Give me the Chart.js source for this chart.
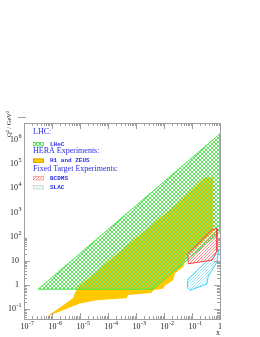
<!DOCTYPE html>
<html>
<head>
<meta charset="utf-8">
<script src="https://cdn.jsdelivr.net/npm/chart.js@4/dist/chart.umd.min.js"></script>
<style>
  html, body { margin: 0; padding: 0; background: #fff; }
</style>
</head>
<body>
<canvas id="kin-chart" width="260" height="337"></canvas>
<script>
// Kinematic regions in the (x, Q^2) plane
const lhecX  = [3.2e-7, 1, 1, 0.004, 3.2e-7];
const lhecQ2 = [0.68, 1.8e6, 155, 0.68, 0.68];

const heraX  = [6.4e-7, 5.6e-6, 6.6e-6, 8.5e-6, 7.8e-4, 0.0316, 0.29, 0.56, 0.56, 0.065, 0.049,
                0.0247, 0.0214, 0.011, 0.0094, 0.0041, 0.0036, 5.2e-4, 4.6e-4, 1.2e-4, 4e-5, 1e-5, 6.4e-7];
const heraQ2 = [0.05, 0.29, 0.47, 0.83, 72, 2450, 2.9e4, 2.8e4, 155, 17.4, 5.7,
                3.1, 1.6, 1.0, 0.73, 0.62, 0.47, 0.39, 0.29, 0.26, 0.24, 0.175, 0.05];

const bcdmsX  = [0.070, 0.52, 0.78, 0.78, 0.52, 0.074, 0.070];
const bcdmsQ2 = [19, 200, 220, 25, 10.8, 7.7, 19];

const slacX  = [0.068, 0.072, 0.37, 0.92, 0.78, 0.38, 0.34, 0.085, 0.068];
const slacQ2 = [0.80, 1.77, 10.8, 28, 8.9, 2.35, 1.1, 0.62, 0.80];

// axis decades that carry a label
const xTickExp = [-7, -6, -5, -4, -3, -2, -1, 0];
const yTickExp = [-1, 0, 1, 2, 3, 4, 5, 6];

// legend text
const legendHeads = ['LHC:', 'HERA Experiments:', 'Fixed Target Experiments:'];
const legendItems = ['LHeC', 'H1 and ZEUS', 'BCDMS', 'SLAC'];

const canvas = document.getElementById('kin-chart');
const ctx = canvas.getContext('2d');

/**
 * Small repeating hatch pattern (kind: '/', '\\' or 'x')
 */
function hatch(color, kind, size, bg) {
    const tile = document.createElement('canvas');
    tile.width = size;
    tile.height = size;
    const g = tile.getContext('2d');
    if (bg) {
        g.fillStyle = bg;
        g.fillRect(0, 0, size, size);
    }
    g.strokeStyle = color;
    g.lineWidth = 1;
    g.beginPath();
    if (kind === '/' || kind === 'x') {
        g.moveTo(-1, size + 1); g.lineTo(size + 1, -1);
        g.moveTo(-1, 1); g.lineTo(1, -1);
        g.moveTo(size - 1, size + 1); g.lineTo(size + 1, size - 1);
    }
    if (kind === '\\' || kind === 'x') {
        g.moveTo(-1, -1); g.lineTo(size + 1, size + 1);
        g.moveTo(size - 1, -1); g.lineTo(size + 1, 1);
        g.moveTo(-1, size - 1); g.lineTo(1, size + 1);
    }
    g.stroke();
    return ctx.createPattern(tile, 'repeat');
}

const greenMesh = hatch('#5fe35f', 'x', 4);
const redHatch  = hatch('#ff8c8c', '/', 3);
const cyanHatch = hatch('#9ee4f6', '/', 3);

function toPoints(xs, ys) {
    return xs.map((x, i) => ({ x: x, y: ys[i] }));
}

function region(label, xs, ys, border, fillStyle, width) {
    return {
        label: label,
        data: toPoints(xs, ys),
        showLine: true,
        fill: 'shape',
        tension: 0,
        borderColor: border,
        backgroundColor: fillStyle,
        borderWidth: width,
        pointRadius: 0,
        pointHoverRadius: 0
    };
}

function sup(c, base, exp, x, y, align) {
    c.font = '8px "Liberation Serif", serif';
    const wb = c.measureText(base).width;
    c.font = '6px "Liberation Serif", serif';
    const we = exp ? c.measureText(exp).width : 0;
    let start = x;
    if (align === 'right') start = x - wb - we;
    if (align === 'center') start = x - (wb + we) / 2;
    c.textAlign = 'left';
    c.textBaseline = 'middle';
    c.font = '8px "Liberation Serif", serif';
    c.fillText(base, start, y);
    if (exp) {
        c.font = '6px "Liberation Serif", serif';
        c.fillText(exp, start + wb + 0.5, y - 3.5);
    }
}

function expLabel(e) {
    if (e === 0) return ['1', ''];
    if (e === 1) return ['10', ''];
    return ['10', String(e)];
}

// frame, ROOT-like ticks, labels and legend
const decor = {
    id: 'decor',
    afterDatasetsDraw(chart) {
        const c = chart.ctx;
        const { left, right, top, bottom } = chart.chartArea;
        const xs = chart.scales.x;
        const ys = chart.scales.y;

        c.save();
        c.strokeStyle = '#a0a0a0';
        c.lineWidth = 1;
        c.strokeRect(Math.round(left) + 0.5, Math.round(top) + 0.5,
                     Math.round(right - left), Math.round(bottom - top));

        c.beginPath();
        for (let e = -8; e <= 1; e++) {
            for (let m = 1; m <= 9; m++) {
                const v = m * Math.pow(10, e);
                if (v >= xs.min && v <= xs.max) {
                    const px = Math.round(xs.getPixelForValue(v)) + 0.5;
                    const len = m === 1 ? 6 : 3;
                    c.moveTo(px, bottom); c.lineTo(px, bottom - len);
                    c.moveTo(px, top); c.lineTo(px, top + len);
                }
                if (v >= ys.min && v <= ys.max) {
                    const py = Math.round(ys.getPixelForValue(v)) + 0.5;
                    const len = m === 1 ? 6 : 3;
                    c.moveTo(left, py); c.lineTo(left + len, py);
                    c.moveTo(right, py); c.lineTo(right - len, py);
                }
            }
        }
        c.stroke();

        // small mark above the y axis
        c.beginPath();
        c.moveTo(18, 117.5); c.lineTo(26, 117.5);
        c.stroke();

        // tick labels
        c.fillStyle = '#222';
        xTickExp.forEach(e => {
            const px = xs.getPixelForValue(Math.pow(10, e));
            const [b, x] = expLabel(e);
            if (x) sup(c, b, x, px - 3.5, 327, 'left');
            else sup(c, b, x, px, 327, 'center');
        });
        yTickExp.forEach(e => {
            const py = ys.getPixelForValue(Math.pow(10, e));
            const [b, x] = expLabel(e);
            sup(c, b, x, x ? 21 : 19, py, 'right');
        });

        // axis titles
        c.font = '8px "Liberation Serif", serif';
        c.textAlign = 'center';
        c.textBaseline = 'middle';
        c.fillText('x', 218, 333);
        c.save();
        c.translate(9, 111);
        c.rotate(-Math.PI / 2);
        c.textAlign = 'right';
        c.font = '6.5px "Liberation Serif", serif';
        c.fillText('Q² / GeV²', 0, 0);
        c.restore();

        // legend
        const blue = '#2b2be6';
        c.fillStyle = blue;
        c.textAlign = 'left';
        c.textBaseline = 'middle';
        c.font = '8px "Liberation Serif", serif';
        c.fillText(legendHeads[0], 33, 132);
        c.fillText(legendHeads[1], 33, 150.5);
        c.fillText(legendHeads[2], 33, 168.5);

        const boxes = [
            { y: 142, fill: greenMesh, line: '#55e055' },
            { y: 158.5, fill: '#ffcc00', line: '#c89a00' },
            { y: 176, fill: redHatch, line: '#f0a0a0' },
            { y: 185, fill: '#e6f8f8', line: '#c8d4d4' }
        ];
        boxes.forEach((b, i) => {
            c.fillStyle = b.fill;
            c.fillRect(33, b.y, 11, 4);
            c.strokeStyle = b.line;
            c.lineWidth = 0.8;
            c.strokeRect(33.5, b.y + 0.5, 10, 3.5);
            c.fillStyle = blue;
            c.font = 'bold 6px "Liberation Mono", monospace';
            c.fillText(legendItems[i], 50, b.y + 2);
        });
        c.restore();
    }
};

const kinChart = new Chart(canvas, {
    type: 'scatter',
    data: {
        datasets: [
            region('BCDMS', bcdmsX, bcdmsQ2, '#ff3a3a', redHatch, 1),
            region('SLAC', slacX, slacQ2, '#3cd4f4', cyanHatch, 1),
            region('LHeC', lhecX, lhecQ2, '#44e844', greenMesh, 1),
            region('H1 and ZEUS', heraX, heraQ2, '#ffc800', '#ffc800', 0)
        ]
    },
    options: {
        responsive: false,
        animation: false,
        layout: {
            padding: { left: 24, right: 40, top: 123, bottom: 18 }
        },
        plugins: {
            legend: { display: false },
            tooltip: { enabled: false }
        },
        scales: {
            x: {
                type: 'logarithmic',
                min: 1e-7,
                max: 1,
                display: false,
                afterFit: s => { s.height = 0; }
            },
            y: {
                type: 'logarithmic',
                min: 0.04,
                max: 5e6,
                display: false,
                afterFit: s => { s.width = 0; }
            }
        }
    },
    plugins: [decor]
});
</script>
</body>
</html>
